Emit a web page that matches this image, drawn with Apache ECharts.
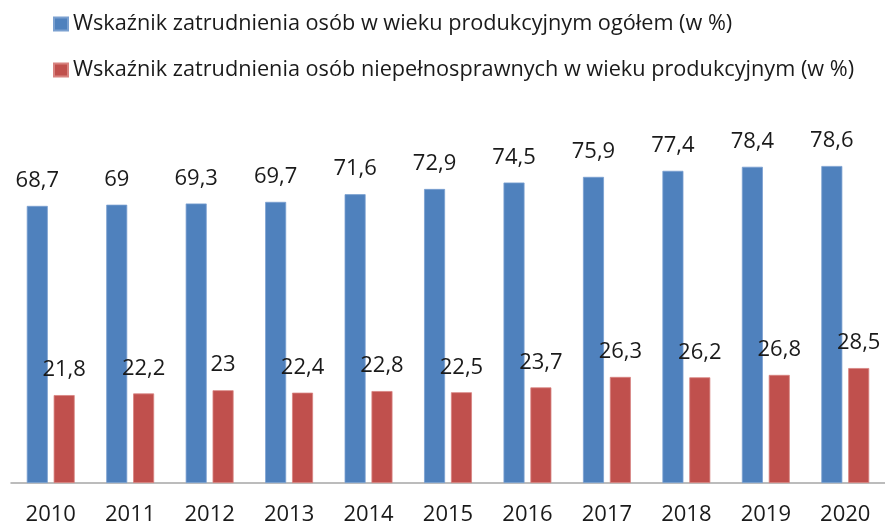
<!DOCTYPE html>
<html>
<head>
<meta charset="utf-8">
<script src="https://cdn.jsdelivr.net/npm/echarts@6/dist/echarts.min.js"></script>
<style>
  html, body { margin: 0; padding: 0; background: #fff; }
  #chart { width: 885px; height: 526px; }
</style>
</head>
<body>
<div id="chart"></div>
<script>
const years = ['2010', '2011', '2012', '2013', '2014', '2015', '2016', '2017', '2018', '2019', '2020'];
const ogolem = [68.7, 69, 69.3, 69.7, 71.6, 72.9, 74.5, 75.9, 77.4, 78.4, 78.6];
const niepelnosprawni = [21.8, 22.2, 23, 22.4, 22.8, 22.5, 23.7, 26.3, 26.2, 26.8, 28.5];
const seriesNames = [
    'Wskaźnik zatrudnienia osób w wieku produkcyjnym ogółem (w %)',
    'Wskaźnik zatrudnienia osób niepełnosprawnych w wieku produkcyjnym (w %)'
];

const font = '"Open Sans", "DejaVu Sans", sans-serif';
const chart = echarts.init(document.getElementById('chart'));

// etykiety z przecinkiem dziesiętnym
const fmt = p => String(p.value).replace('.', ',');

const barLabel = {
    show: true,
    position: 'top',
    distance: 14,
    fontFamily: font,
    fontSize: 22,
    color: '#1a1a1a',
    formatter: fmt
};

chart.setOption({
    backgroundColor: '#fff',
    animation: false,
    legend: {
        orient: 'vertical',
        left: 48,
        top: 8,
        itemWidth: 14,
        itemHeight: 13,
        itemGap: 24,
        icon: 'rect',
        textStyle: { fontFamily: font, fontSize: 21.7, color: '#1a1a1a' },
        data: seriesNames
    },
    grid: { left: 11, right: 0, top: 120, bottom: 43 },
    xAxis: {
        type: 'category',
        data: years,
        axisLine: { lineStyle: { color: '#a6a6a6', width: 1.5 } },
        axisTick: { show: false },
        axisLabel: { fontFamily: font, fontSize: 22, color: '#1a1a1a', margin: 21 }
    },
    yAxis: {
        type: 'value',
        min: 0,
        max: 90,
        show: false,
        splitLine: { show: false }
    },
    series: [
        {
            name: seriesNames[0],
            type: 'bar',
            data: ogolem,
            barWidth: 21,
            barGap: '28%',
            itemStyle: { color: '#4f81bd', borderColor: '#7aa0d0', borderWidth: 0.8 },
            label: barLabel
        },
        {
            name: seriesNames[1],
            type: 'bar',
            data: niepelnosprawni,
            barWidth: 21,
            itemStyle: { color: '#c0504d', borderColor: '#d88380', borderWidth: 0.8 },
            label: barLabel
        }
    ]
});
</script>
</body>
</html>
